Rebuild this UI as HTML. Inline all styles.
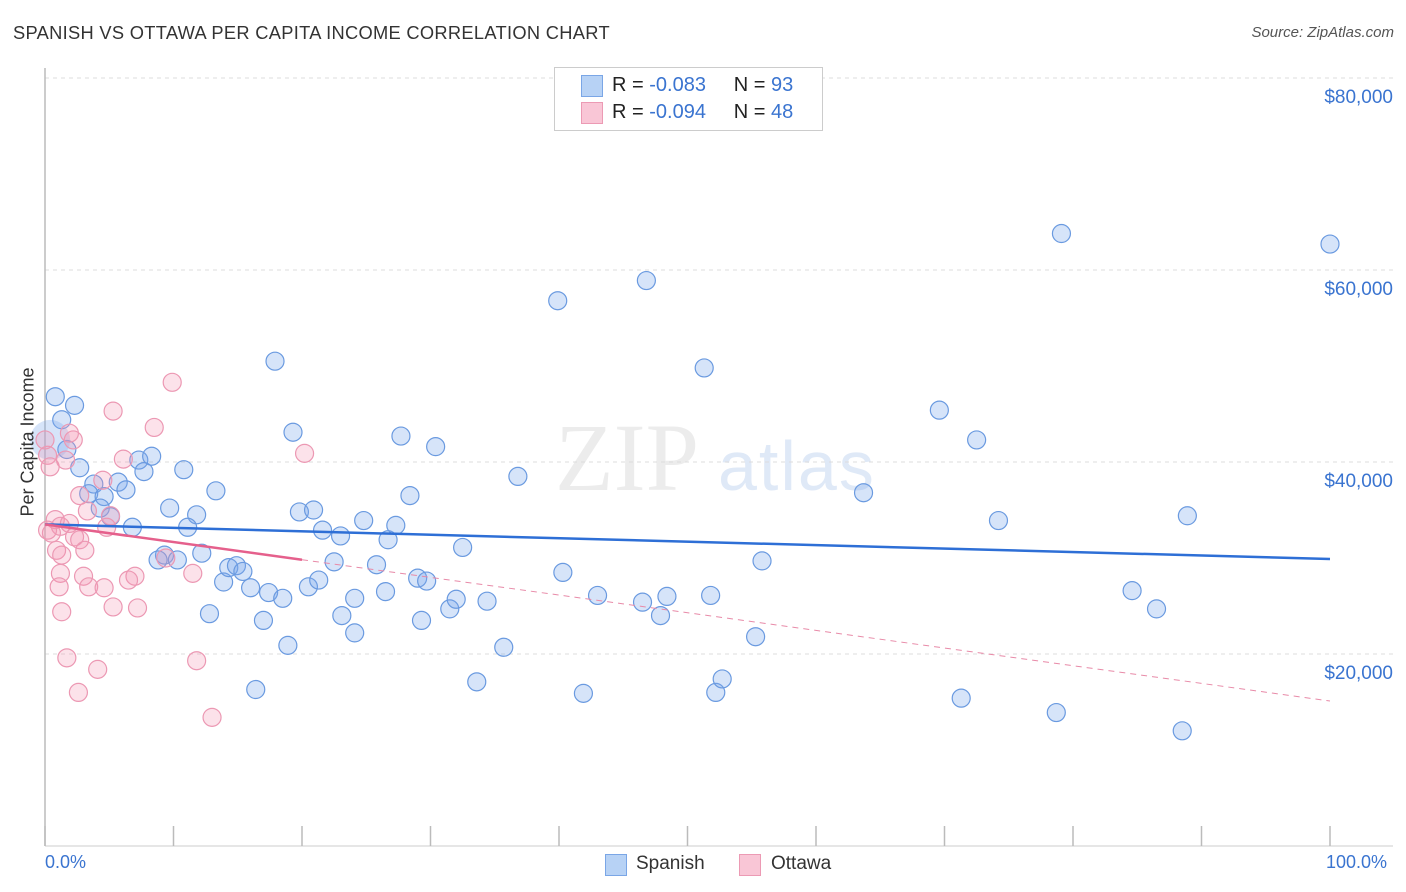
<!DOCTYPE html>
<html><head><meta charset="utf-8">
<style>
body{margin:0;background:#fff;font-family:"Liberation Sans",sans-serif;}
#wrap{position:relative;width:1406px;height:892px;overflow:hidden;}
.t{position:absolute;white-space:nowrap;}
</style></head>
<body>
<div id="wrap">
<div class="t" style="left:13px;top:22px;font-size:18.3px;color:#333;letter-spacing:0.3px">SPANISH VS OTTAWA PER CAPITA INCOME CORRELATION CHART</div>
<div class="t" style="right:12px;top:24px;font-size:15px;color:#555;font-style:italic">Source: ZipAtlas.com</div>
<svg id="chart" width="1406" height="892" style="position:absolute;left:0;top:0"></svg>
<div class="t" style="left:554px;top:67px;width:267px;height:62px;border:1px solid #ccc;background:#fff"></div>
<div class="t" style="left:581px;top:75px;width:20px;height:20px;background:#b7d2f5;border:1px solid #7aa6e6"></div>
<div class="t" style="left:581px;top:102px;width:20px;height:20px;background:#f9c6d6;border:1px solid #ec9ab4"></div>
<div class="t" style="left:612px;top:74px;font-size:20px;color:#222">R = <span style="color:#3a74d0">-0.083</span>&nbsp;&nbsp;&nbsp;&nbsp; N = <span style="color:#3a74d0">93</span></div>
<div class="t" style="left:612px;top:101px;font-size:20px;color:#222">R = <span style="color:#3a74d0">-0.094</span>&nbsp;&nbsp;&nbsp;&nbsp; N = <span style="color:#3a74d0">48</span></div>
<div class="t" style="left:-32px;top:446px;font-size:18px;color:#333;transform:rotate(-90deg);transform-origin:center;width:120px;text-align:center">Per Capita Income</div>
<div class="t" style="left:45px;top:852px;font-size:18px;color:#3a74d0">0.0%</div>
<div class="t" style="left:1326px;top:852px;font-size:18px;color:#3a74d0">100.0%</div>
<div class="t" style="left:605px;top:854px;width:20px;height:20px;background:#b7d2f5;border:1px solid #7aa6e6"></div>
<div class="t" style="left:636px;top:853px;font-size:19px;color:#333">Spanish</div>
<div class="t" style="left:739px;top:854px;width:20px;height:20px;background:#f9c6d6;border:1px solid #ec9ab4"></div>
<div class="t" style="left:771px;top:853px;font-size:19px;color:#333">Ottawa</div>
</div>
<script>
const yTicks=[20000,40000,60000,80000];
const yTickLabels=["$20,000","$40,000","$60,000","$80,000"];
const xTicks=[0,10,20,30,40,50,60,70,80,90,100];
const spanishX=[0.8,1.3,2.3,1.7,2.7,3.8,3.4,4.6,5.7,6.3,4.3,5.1,6.8,7.3,8.3,7.7,9.7,10.8,11.8,11.1,13.3,9.3,8.8,10.3,12.2,12.8,13.9,14.3,14.9,15.4,16.0,16.4,17.0,17.4,17.9,18.5,18.9,19.3,19.8,20.5,20.9,21.3,21.6,22.5,23.0,23.1,24.1,24.1,24.8,25.8,26.5,26.7,27.3,27.7,28.4,29.0,29.3,29.7,30.4,31.5,32.0,32.5,33.6,34.4,35.7,36.8,39.9,40.3,41.9,43.0,46.5,46.8,47.9,48.4,51.3,51.8,52.2,52.7,55.3,55.8,63.7,69.6,71.3,72.5,74.2,78.7,79.1,84.6,86.5,88.5,88.9,100];
const spanishY=[46.8,44.4,45.9,41.3,39.4,37.7,36.7,36.4,37.9,37.1,35.2,34.3,33.2,40.2,40.6,39.0,35.2,39.2,34.5,33.2,37.0,30.3,29.8,29.8,30.5,24.2,27.5,29.0,29.2,28.6,26.9,16.3,23.5,26.4,50.5,25.8,20.9,43.1,34.8,27.0,35.0,27.7,32.9,29.6,32.3,24.0,25.8,22.2,33.9,29.3,26.5,31.9,33.4,42.7,36.5,27.9,23.5,27.6,41.6,24.7,25.7,31.1,17.1,25.5,20.7,38.5,56.8,28.5,15.9,26.1,25.4,58.9,24.0,26.0,49.8,26.1,16.0,17.4,21.8,29.7,36.8,45.4,15.4,42.3,33.9,13.9,63.8,26.6,24.7,12.0,34.4,62.7];
const ottawaX=[9.9,5.3,8.5,2.2,1.9,0.2,0.4,1.6,6.1,4.5,20.2,2.7,3.3,5.1,4.8,0.8,1.2,1.9,0.2,0.5,2.3,2.7,0.9,1.3,3.1,1.2,3.0,7.0,6.5,11.5,1.1,3.4,4.6,1.3,5.3,7.2,1.7,4.1,11.8,2.6,13.0,9.4,0.0];
const ottawaY=[48.3,45.3,43.6,42.3,43.0,40.7,39.5,40.2,40.3,38.1,40.9,36.5,34.9,34.4,33.2,34.0,33.3,33.6,32.9,32.6,32.2,31.9,30.8,30.3,30.8,28.4,28.1,28.1,27.7,28.4,27.0,27.0,26.9,24.4,24.9,24.8,19.6,18.4,19.3,16.0,13.4,30.0,42.3];
const spanishTrend=[33500,-36];
const ottawaTrend=[33500,-184];
const NS="http://www.w3.org/2000/svg";
const svg=document.getElementById('chart');
const X0=45,X1=1330,Y0=846,PXK=192/20000;
const xs=p=>X0+(X1-X0)*p/100;
const ys=v=>Y0-v*PXK;
function mk(tag,a){const e=document.createElementNS(NS,tag);for(const k in a)e.setAttribute(k,a[k]);svg.appendChild(e);return e;}
let wm=mk('text',{x:555,y:490,'font-size':96,'font-family':'Liberation Serif,serif',fill:'#ececec'});wm.textContent='ZIP';


let wm2=mk('text',{x:718,y:490,'font-size':70,'font-family':'Liberation Sans,sans-serif',fill:'#dfe9f7','letter-spacing':'2'});wm2.textContent='atlas';


yTicks.forEach((v,i)=>{
  const g=mk('line',{x1:X0,x2:1393,y1:ys(v),y2:ys(v),stroke:'#dcdcdc','stroke-dasharray':'4,4'});
  
  
  const t=mk('text',{x:1393,y:ys(v)+25,'text-anchor':'end','font-size':19,fill:'#3a74d0','font-family':'Liberation Sans,sans-serif'});
  t.textContent=yTickLabels[i];
  
  
});
let ax=mk('line',{x1:X0,x2:X0,y1:68,y2:Y0,stroke:'#bbb','stroke-width':1.5});


let bx=mk('line',{x1:X0,x2:1393,y1:Y0,y2:Y0,stroke:'#ccc'});


xTicks.forEach(p=>{
  const t=mk('line',{x1:xs(p),x2:xs(p),y1:826,y2:Y0,stroke:'#bbb','stroke-width':1.5});
  
  
});
spanishX.forEach((x,i)=>{
  const c=mk('circle',{cx:xs(x),cy:ys(spanishY[i]*1000),r:9,fill:'rgba(120,165,235,0.3)',stroke:'#6a9ae0','stroke-width':1.2});
  
  
});
let big=mk('circle',{cx:xs(0.4),cy:ys(42300),r:20,fill:'rgba(120,165,235,0.3)',stroke:'none'});


ottawaX.forEach((x,i)=>{
  const c=mk('circle',{cx:xs(x),cy:ys(ottawaY[i]*1000),r:9,fill:'rgba(245,150,180,0.28)',stroke:'#ec98b3','stroke-width':1.2});
  
  
});
const tr=(t,p)=>t[0]+t[1]*p;
let bl=mk('line',{x1:xs(0),y1:ys(tr(spanishTrend,0)),x2:xs(100),y2:ys(tr(spanishTrend,100)),stroke:'#2e6fd6','stroke-width':2.5});


let pl=mk('line',{x1:xs(0),y1:ys(tr(ottawaTrend,0)),x2:xs(20),y2:ys(tr(ottawaTrend,20)),stroke:'#e5608c','stroke-width':2.5});


let pd=mk('line',{x1:xs(20),y1:ys(tr(ottawaTrend,20)),x2:xs(100),y2:ys(tr(ottawaTrend,100)),stroke:'#e88aa8','stroke-width':1,'stroke-dasharray':'6,5'});


</script>
</body></html>
